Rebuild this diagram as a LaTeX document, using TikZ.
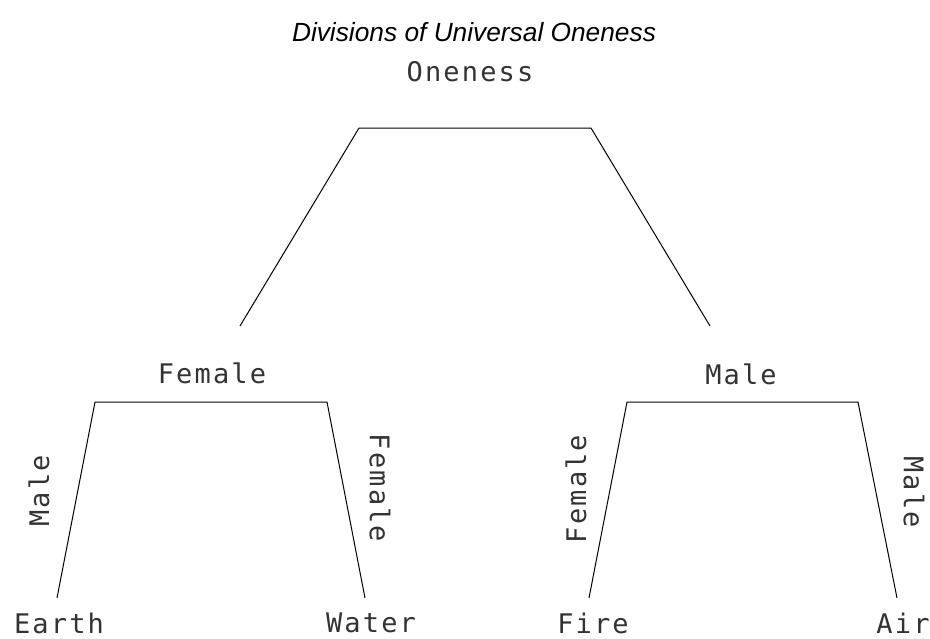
\documentclass[tikz,border=0pt]{standalone}
\usepackage{fontspec}
\setmainfont{Liberation Sans}
\newfontfamily\cadfont[LetterSpace=8]{DejaVu Sans Mono}
\begin{document}
\begin{tikzpicture}[x=1pt,y=-1pt,
  cad/.style={font=\cadfont\fontsize{27}{29}\selectfont, inner sep=0pt, text=black!80},
  titletext/.style={font=\itshape\fontsize{26.3}{29}\selectfont, inner sep=0pt},
  branch/.style={draw=black, line width=1pt, line join=miter}]
\useasboundingbox (0,0) rectangle (930,638);
% title
\node[titletext] (title) at (474,32) {Divisions of Universal Oneness};
% labels
\node[cad] (one) at (470,72) {Oneness};
\node[cad] (fem) at (212,373) {Female};
\node[cad] (mal) at (741,374) {Male};
\node[cad] (earth) at (59,623) {Earth};
\node[cad] (water) at (371,623) {Water};
\node[cad] (fire) at (593,623) {Fire};
\node[cad] (air) at (903,623) {Air};
\node[cad, rotate=90] (lm) at (39,491) {Male};
\node[cad, rotate=-90] (lf) at (380,488) {Female};
\node[cad, rotate=90] (rf) at (576,489) {Female};
\node[cad, rotate=-90] (rm) at (914,492) {Male};
% corners
\coordinate (t1) at (359,128); \coordinate (t2) at (591,128);
\coordinate (t0) at (240,326); \coordinate (t3) at (710,326);
\coordinate (a1) at (95,402); \coordinate (a2) at (327,402);
\coordinate (a0) at (57,598); \coordinate (a3) at (365,598);
\coordinate (b1) at (627,402); \coordinate (b2) at (858,402);
\coordinate (b0) at (589,598); \coordinate (b3) at (897,598);
\draw[branch] (t0) -- (t1) -- (t2) -- (t3);
\draw[branch] (a0) -- (a1) -- (a2) -- (a3);
\draw[branch] (b0) -- (b1) -- (b2) -- (b3);
\end{tikzpicture}
\end{document}
